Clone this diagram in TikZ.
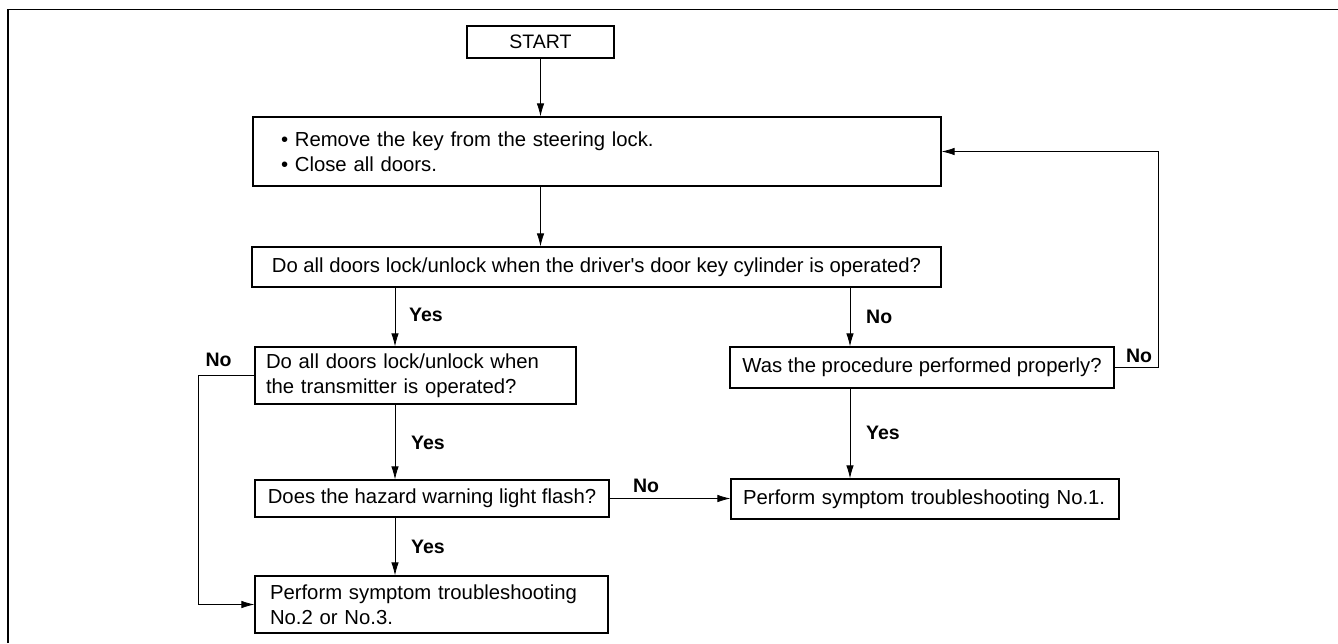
\documentclass[tikz,border=0pt]{standalone}
\usepackage{fontspec}
\setmainfont{Liberation Sans}[Ligatures=TeXOff]
\usetikzlibrary{arrows.meta}
\begin{document}
\begin{tikzpicture}[x=1pt,y=-1pt,
  box/.style={draw,line width=1.2pt,rectangle,inner sep=0pt,
    font=\fontsize{20.3}{25}\selectfont},
  leftbox/.style={box,align=left},
  lbl/.style={inner sep=0pt,font=\fontsize{19.5}{22}\selectfont\bfseries},
  arr/.style={-{Latex[length=13pt,width=7.5pt]},line width=0.8pt}]
\useasboundingbox (0,0) rectangle (1338,643);

% outer frame
\draw[line width=1.4pt] (8,643) -- (8,9.5) -- (1338,9.5);

% columns used by the vertical connectors
\coordinate (yesx) at (395,0);
\coordinate (nox) at (850,0);
\coordinate (fbx) at (1158,0);
\coordinate (nolx) at (198,0);

% boxes
\node[box,minimum width=147pt,minimum height=32pt,font=\fontsize{19.5}{22}\selectfont]
  (start) at (540.5,42) {START};
\node[leftbox,text width=632pt,inner xsep=28pt,minimum height=69pt]
  (remove) at (597,151.5)
  {\fontsize{20.3}{26}\selectfont • Remove the key from the steering lock.\\• Close all doors.};
\node[box,minimum width=689pt,minimum height=40pt]
  (q1) at (596.5,267)
  {Do all doors lock/unlock when the driver's door key cylinder is operated?};
\node[leftbox,text width=299pt,inner xsep=11pt,minimum height=57pt]
  (q2) at (415.5,375.5)
  {Do all doors lock/unlock when\\the transmitter is operated?};
\node[box,minimum width=384pt,minimum height=41pt]
  (proc) at (922,367.5) {Was the procedure performed properly?};
\node[box,minimum width=354pt,minimum height=37pt]
  (haz) at (432,498.5) {Does the hazard warning light flash?};
\node[leftbox,text width=364pt,inner xsep=12pt,minimum height=40pt]
  (perf1) at (925,499) {Perform symptom troubleshooting No.1.};
\node[leftbox,text width=323pt,inner xsep=15pt,minimum height=57pt]
  (perf23) at (431.5,604.5)
  {Perform symptom troubleshooting\\No.2 or No.3.};

% connectors
\draw[arr] (start.south) -- (remove.north -| start.south);
\draw[arr] (remove.south -| start.south) -- (q1.north -| start.south);
\draw[arr] (q1.south -| yesx) -- (q2.north -| yesx);
\draw[arr] (q1.south -| nox) -- (proc.north -| nox);
\draw[arr] (q2.south -| yesx) -- (haz.north -| yesx);
\draw[arr] (proc.south -| nox) -- (perf1.north -| nox);
\draw[arr] (haz.south -| yesx) -- (perf23.north -| yesx);
\draw[arr] (haz.east) -- (perf1.west |- haz.east);
\draw[arr] (q2.west) -- (q2.west -| nolx) -- (perf23.west -| nolx) -- (perf23.west);
\draw[arr] (proc.east) -- (proc.east -| fbx) -- (remove.east -| fbx) -- (remove.east);

% branch labels
\node[lbl,anchor=west] (l1) at (409,315) {Yes};
\node[lbl,anchor=west] (l2) at (866,317) {No};
\node[lbl] (l3) at (218.5,360) {No};
\node[lbl] (l4) at (1139,356) {No};
\node[lbl,anchor=west] (l5) at (411,443) {Yes};
\node[lbl,anchor=west] (l6) at (866,433) {Yes};
\node[lbl] (l7) at (646,486) {No};
\node[lbl,anchor=west] (l8) at (411,547) {Yes};
\end{tikzpicture}
\end{document}
